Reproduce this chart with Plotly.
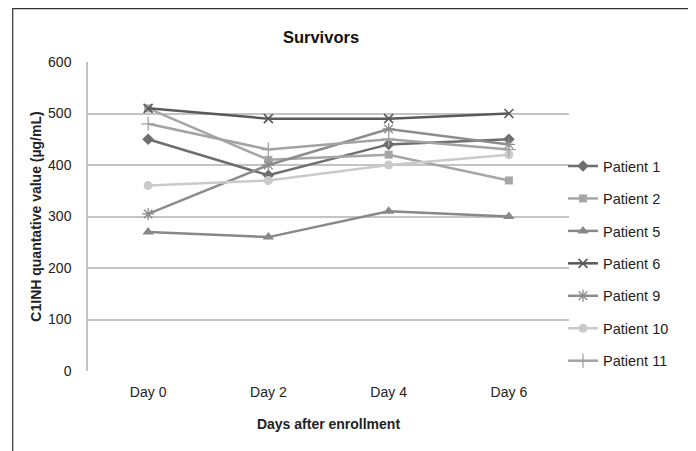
import plotly.graph_objects as go

days = ["Day 0", "Day 2", "Day 4", "Day 6"]
patient_1 = [450, 380, 440, 450]
patient_2 = [510, 410, 420, 370]
patient_5 = [270, 260, 310, 300]
patient_6 = [510, 490, 490, 500]
patient_9 = [305, 400, 470, 440]
patient_10 = [360, 370, 400, 420]
patient_11 = [480, 430, 450, 430]

series = [
    ("Patient 1", patient_1, "#6e6e6e", "diamond", 9, 0),
    ("Patient 2", patient_2, "#a6a6a6", "square", 8, 0),
    ("Patient 5", patient_5, "#888888", "triangle-up", 10, 0),
    ("Patient 6", patient_6, "#5a5a5a", "x-thin", 9, 1.6),
    ("Patient 9", patient_9, "#8c8c8c", "asterisk", 10, 1.3),
    ("Patient 10", patient_10, "#cacaca", "circle", 9, 0),
    ("Patient 11", patient_11, "#a3a3a3", "cross-thin", 10, 1.3),
]

# page has an 8px body margin; figure coordinates = page - 8
L, R, T, B = 80, 135, 54, 88
PW, PH = 696 - L - R, 451 - T - B

fig = go.Figure()
for i, (name, vals, color, sym, size, lw) in enumerate(series):
    marker = dict(symbol=sym, size=size, color=color)
    if lw:
        marker["line"] = dict(color=color, width=lw)
    fig.add_trace(go.Scatter(
        x=days, y=vals, name=name, mode="lines+markers",
        line=dict(color=color, width=2.5), marker=marker,
        legendgroup=f"g{i}",
    ))

fig.update_layout(
    width=696, height=451,
    margin=dict(l=L, r=R, t=T, b=B),
    paper_bgcolor="white", plot_bgcolor="white",
    font=dict(family="Liberation Sans, Arial, sans-serif", size=14, color="#222222"),
    title=dict(text="<b>Survivors</b>", x=313 / 696, xanchor="center",
               y=1 - 29 / 451, yanchor="middle",
               font=dict(size=16.5, color="#111111")),
    showlegend=True,
    legend=dict(x=(555 - L) / PW, xanchor="left", y=0.715, yanchor="top",
                traceorder="grouped", tracegroupgap=10.6,
                font=dict(size=14.5, color="#222222"), itemwidth=30,
                bgcolor="rgba(0,0,0,0)"),
    xaxis=dict(
        type="category", range=[-0.5, 3.5], showgrid=False, showline=False, zeroline=False,
        ticks="", tickfont=dict(size=14), ticklabelstandoff=11,
        title=dict(text="<b>Days after enrollment</b>", font=dict(size=14), standoff=20),
    ),
    yaxis=dict(
        range=[0, 600], dtick=100, showgrid=True, gridcolor="#c4c4c4", gridwidth=1.5,
        showline=True, linecolor="#c4c4c4", linewidth=1.5, zeroline=False,
        ticks="", tickfont=dict(size=14), ticklabelstandoff=12,
        title=dict(text="<b>C1INH quantative value (µg/mL)</b>", font=dict(size=14), standoff=3),
    ),
    shapes=[dict(type="rect", xref="paper", yref="paper",
                 x0=(4.7 - L) / PW, x1=(681 - L) / PW,
                 y0=-(B + 10) / PH, y1=1 + (T - 0.6) / PH,
                 line=dict(color="#333333", width=1.2), fillcolor="rgba(0,0,0,0)",
                 layer="below")],
)

fig.write_html("out.html")
